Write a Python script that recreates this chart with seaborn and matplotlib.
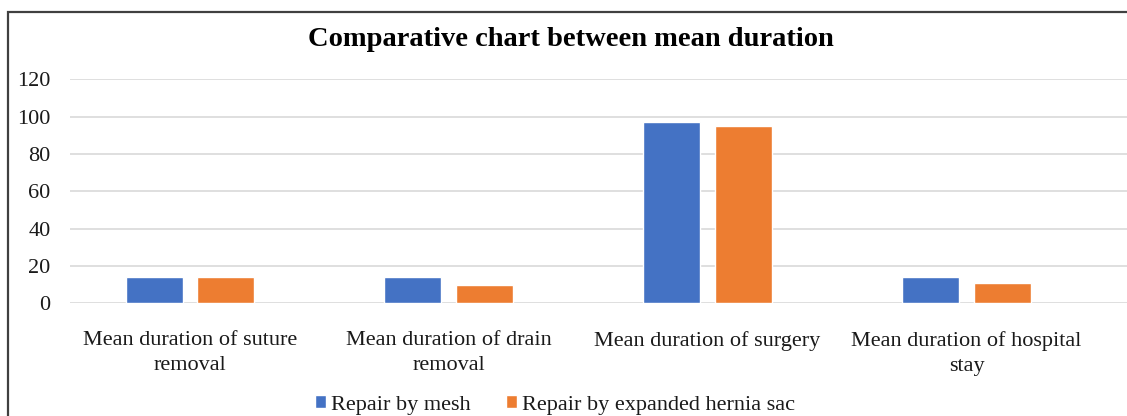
import matplotlib
matplotlib.use("Agg")
import matplotlib.pyplot as plt
from matplotlib.patches import Rectangle
import seaborn as sns
import pandas as pd

categories = [
    "Mean duration of suture\nremoval",
    "Mean duration of drain\nremoval",
    "Mean duration of surgery",
    "Mean duration of hospital\nstay",
]
series_names = ["Repair by mesh", "Repair by expanded hernia sac"]
mesh_values = [14, 14, 97, 14]
sac_values = [14, 10, 95, 11]
y_ticks = [0, 20, 40, 60, 80, 100, 120]
title = "Comparative chart between mean duration"
colors = ["#4472C4", "#ED7D31"]

df = pd.DataFrame({
    "category": categories * 2,
    "series": [series_names[0]] * 4 + [series_names[1]] * 4,
    "value": mesh_values + sac_values,
})

sns.set_theme(style="white")
plt.rcParams["font.family"] = ["Liberation Serif", "DejaVu Serif"]

W, H = 1127, 416
fig = plt.figure(figsize=(W / 100, H / 100), dpi=100)
ax = fig.add_axes([70 / W, (H - 303.3) / H, (W - 70) / W, (303.3 - 79.3) / H])

sns.barplot(data=df, x="category", y="value", hue="series", order=categories,
            hue_order=series_names, palette=colors, width=0.55, gap=0.2,
            saturation=1, ax=ax, legend=True, zorder=3)

ax.set_ylim(0, 120)
ax.set_xlim(-0.462, 3.62)
ax.set_yticks(y_ticks)
ax.set_yticklabels([str(v) for v in y_ticks])
ax.yaxis.grid(True, color="#D9D9D9", linewidth=1.2, zorder=0)
ax.xaxis.grid(False)
ax.set_axisbelow(True)
for s in ax.spines.values():
    s.set_visible(False)
ax.tick_params(axis="y", length=0, pad=14, labelsize=16, labelcolor="#1a1a1a")
ax.tick_params(axis="x", length=0, pad=20, labelsize=16, labelcolor="#1a1a1a")
for lab in ax.get_xticklabels():
    lab.set_linespacing(1.42)
ax.set_xlabel("")
ax.set_ylabel("")

leg = ax.legend(loc="center", bbox_to_anchor=(555 / W, (H - 405) / H), bbox_transform=fig.transFigure,
                ncol=2, frameon=False, fontsize=16, handlelength=0.5, handleheight=0.5,
                handletextpad=0.2, columnspacing=1.6, borderaxespad=0)
for t in leg.get_texts():
    t.set_color("#1a1a1a")

fig.text(571 / W, (H - 40) / H, title, ha="center", va="center",
         fontsize=20.5, fontweight="bold", color="black")

fig.add_artist(Rectangle((7.5 / W, -0.05), 1.5, (H - 11.5) / H + 0.05,
                         transform=fig.transFigure, fill=False,
                         edgecolor="#404040", linewidth=1.6, clip_on=False))

fig.savefig("out.png", dpi=100)
